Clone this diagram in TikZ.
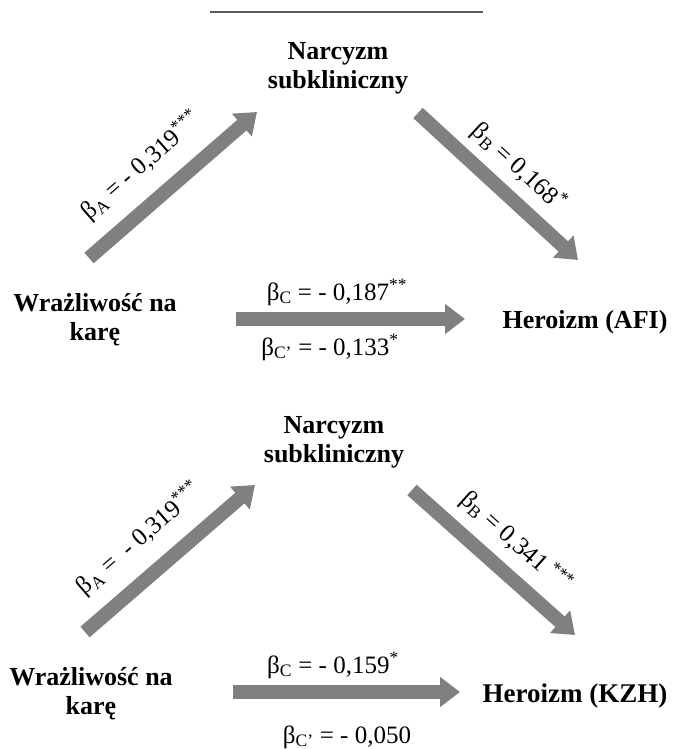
\documentclass[tikz,border=0pt]{standalone}
\usepackage{fontspec}
\setmainfont{Liberation Serif}
\usetikzlibrary{arrows.meta}
\definecolor{arrgray}{RGB}{128,128,128}
\definecolor{rulegray}{RGB}{90,90,90}
\begin{document}
\begin{tikzpicture}[x=1pt,y=-1pt,
  bigarrow/.style={draw=arrgray, line width=14pt, -{Triangle[length=20pt,width=29pt]}},
  varlabel/.style={font=\fontsize{26}{29}\selectfont\bfseries, align=center, inner sep=0pt},
  coef/.style={font=\fontsize{25}{29}\selectfont, inner sep=0pt}]
\useasboundingbox (0,0) rectangle (675,749);
% top rule
\coordinate (rl) at (210,12);
\coordinate (rr) at (483,12);
\draw[rulegray, line width=1.5pt] (rl) -- (rr);

% ---------- panel 1 ----------
\node[varlabel] (n1) at (338,68) {Narcyzm\\subkliniczny};
\node[varlabel] (w1) at (95,320) {Wrażliwość na\\karę};
\node[varlabel, anchor=base] (h1) at (585,328) {Heroizm (AFI)};
\coordinate (a1t) at (89,258);
\coordinate (a1h) at (257,112);
\coordinate (b1t) at (418,113);
\coordinate (b1h) at (578,260);
\coordinate (c1t) at (236,319);
\coordinate (c1h) at (465,319);
\draw[bigarrow] (a1t) -- (a1h);
\draw[bigarrow] (b1t) -- (b1h);
\draw[bigarrow] (c1t) -- (c1h);
\node[coef, rotate=41] (la1) at (141,166) {β\textsubscript{A} = - 0,319\textsuperscript{***}};
\node[coef, rotate=-42.6] (lb1) at (519,167) {β\textsubscript{B} = 0,168\textsuperscript{*}};
\node[coef, anchor=base] (lc1) at (337,300) {β\textsubscript{C} = - 0,187\textsuperscript{**}};
\node[coef, anchor=base] (ld1) at (330,355) {β\textsubscript{C'} = - 0,133\textsuperscript{*}};

% ---------- panel 2 ----------
\node[varlabel] (n2) at (334,442) {Narcyzm\\subkliniczny};
\node[varlabel] (w2) at (91,694) {Wrażliwość na\\karę};
\node[varlabel, font=\fontsize{27}{30}\selectfont\bfseries, anchor=base] (h2) at (575,702) {Heroizm (KZH)};
\coordinate (a2t) at (85,632);
\coordinate (a2h) at (255,485);
\coordinate (b2t) at (412,490);
\coordinate (b2h) at (575,635);
\coordinate (c2t) at (233,692);
\coordinate (c2h) at (460,692);
\draw[bigarrow] (a2t) -- (a2h);
\draw[bigarrow] (b2t) -- (b2h);
\draw[bigarrow] (c2t) -- (c2h);
\node[coef, rotate=40.9] (la2) at (139,539) {β\textsubscript{A} =\ \ - 0,319\textsuperscript{***}};
\node[coef, rotate=-41.7] (lb2) at (516,542) {β\textsubscript{B} = 0,341\,\textsuperscript{***}};
\node[coef, anchor=base] (lc2) at (333,673) {β\textsubscript{C} = - 0,159\textsuperscript{*}};
\node[coef, anchor=base] (ld2) at (347,743) {β\textsubscript{C'} = - 0,050};
\end{tikzpicture}
\end{document}
